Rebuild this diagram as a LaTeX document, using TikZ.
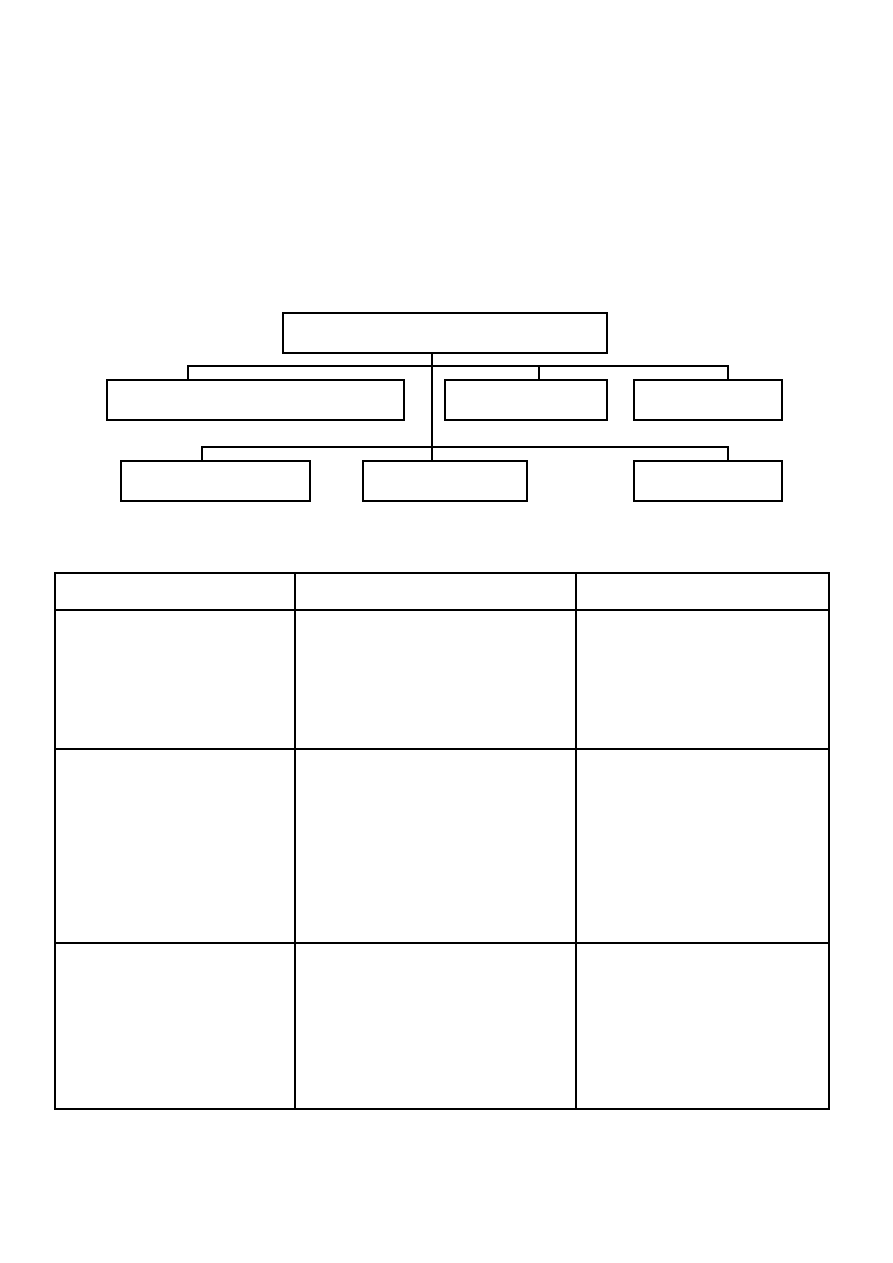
\documentclass[tikz,border=0pt]{standalone}
\newlength\pxu
\setlength\pxu{0.6667pt}
\begin{document}
\begin{tikzpicture}[x=0.6667pt,y=-0.6667pt,
  box/.style={draw,line width=1.2pt,rectangle,inner sep=0pt,outer sep=0pt},
  conn/.style={draw,line width=0.9pt},
  grid/.style={draw,line width=1pt}]
\useasboundingbox[fill=white] (0,0) rectangle (893,1263);
% boxes
\node[box,minimum width=324\pxu,minimum height=40\pxu] (top) at (445,333) {};
\node[box,minimum width=297\pxu,minimum height=40\pxu] (L1) at (255.5,400) {};
\node[box,minimum width=162\pxu,minimum height=40\pxu] (M1) at (526,400) {};
\node[box,minimum width=148\pxu,minimum height=40\pxu] (R1) at (708,400) {};
\node[box,minimum width=189\pxu,minimum height=40\pxu] (L2) at (215.5,481) {};
\node[box,minimum width=164\pxu,minimum height=40\pxu] (M2) at (445,481) {};
\node[box,minimum width=148\pxu,minimum height=40\pxu] (R2) at (708,481) {};
% helper coordinates
\coordinate (s) at (432,0);
\coordinate (t1) at (188,0);
\coordinate (t2) at (539,0);
\coordinate (t3) at (728,0);
\coordinate (u1) at (202,0);
\coordinate (b1) at (0,366);
\coordinate (b2) at (0,447);
% connectors
\draw[conn] (top.south -| s) -- (M2.north -| s);
\draw[conn] (L1.north -| t1) |- (b1 -| t3) -- (R1.north -| t3);
\draw[conn] (b1 -| t2) -- (M1.north -| t2);
\draw[conn] (L2.north -| u1) |- (b2 -| t3) -- (R2.north -| t3);
% table
\draw[grid] (55,573) rectangle (829,1109);
\draw[grid] (295,573) -- (295,1109);
\draw[grid] (576,573) -- (576,1109);
\draw[grid] (55,610) -- (829,610);
\draw[grid] (55,749) -- (829,749);
\draw[grid] (55,943) -- (829,943);
\end{tikzpicture}
\end{document}
